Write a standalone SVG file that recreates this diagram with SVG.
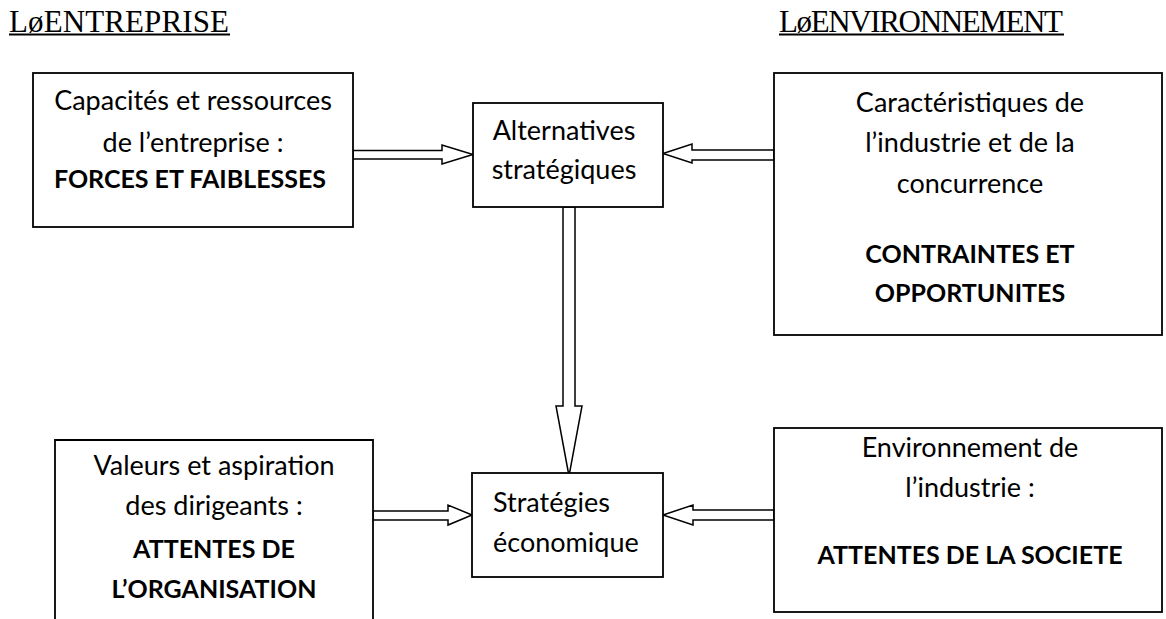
<svg xmlns="http://www.w3.org/2000/svg" width="1166" height="619" viewBox="0 0 1166 619">
<style>
.box{fill:#fff;stroke:#000;stroke-width:1.8}
.arr{fill:#fff;stroke:#000;stroke-width:1.5;stroke-linejoin:miter}
.hd{font-family:"Liberation Serif","Times New Roman",serif;font-size:31px;fill:#000}
.t{font-family:Lato,"Liberation Sans",sans-serif;font-size:27px;fill:#000;text-anchor:middle}
.b{font-weight:bold;font-size:25px}
.l{text-anchor:start}
</style>
<rect width="1166" height="619" fill="#fff"/>
<g id="headers">
<text class="hd" x="9" y="32" textLength="220">LøENTREPRISE</text>
<rect x="9" y="33.5" width="221" height="2" fill="#000"/>
<text class="hd" x="779" y="32" textLength="284">LøENVIRONNEMENT</text>
<rect x="779" y="33.5" width="285" height="2" fill="#000"/>
</g>
<g id="connectors">
<polygon class="arr" points="353,150.5 442,150.5 442,145 473,154.5 442,164 442,159 353,159"/>
<polygon class="arr" points="774,150 692,150 692,144 663,153.5 692,163 692,160 774,160"/>
<polygon class="arr" points="563,207 563,406 556,406 569,476 582,406 575,406 575,207"/>
<polygon class="arr" points="373,511 448,511 448,505 472,515 448,525 448,520 373,520"/>
<polygon class="arr" points="774,510 693,510 693,505 663,515 693,525 693,520 774,520"/>
</g>
<g id="n-forces">
<rect class="box" x="33" y="73" width="320" height="154"/>
<text class="t" x="193" y="110">Capacités et ressources</text>
<text class="t" x="193" y="152">de l’entreprise :</text>
<text class="t b" x="190" y="188">FORCES ET FAIBLESSES</text>
</g>
<g id="n-alternatives">
<rect class="box" x="473" y="103" width="190" height="104"/>
<text class="t" x="564" y="140">Alternatives</text>
<text class="t" x="564" y="179">stratégiques</text>
</g>
<g id="n-contraintes">
<rect class="box" x="774" y="73" width="388" height="262"/>
<text class="t" x="970" y="112">Caractéristiques de</text>
<text class="t" x="970" y="152">l’industrie et de la</text>
<text class="t" x="970" y="193">concurrence</text>
<text class="t b" x="970" y="263">CONTRAINTES ET</text>
<text class="t b" x="970" y="302">OPPORTUNITES</text>
</g>
<g id="n-strategies">
<rect class="box" x="472" y="473" width="191" height="104"/>
<text class="t l" x="493" y="512">Stratégies</text>
<text class="t l" x="493" y="552">économique</text>
</g>
<g id="n-organisation">
<path class="box" d="M55,640 V440 H373 V640" fill="none"/>
<text class="t" x="214" y="475">Valeurs et aspiration</text>
<text class="t" x="214" y="515">des dirigeants :</text>
<text class="t b" x="214" y="558">ATTENTES DE</text>
<text class="t b" x="214" y="598">L’ORGANISATION</text>
</g>
<g id="n-societe">
<rect class="box" x="774" y="428" width="388" height="184"/>
<text class="t" x="970" y="457">Environnement de</text>
<text class="t" x="970" y="497">l’industrie :</text>
<text class="t b" x="970" y="564">ATTENTES DE LA SOCIETE</text>
</g>
</svg>
